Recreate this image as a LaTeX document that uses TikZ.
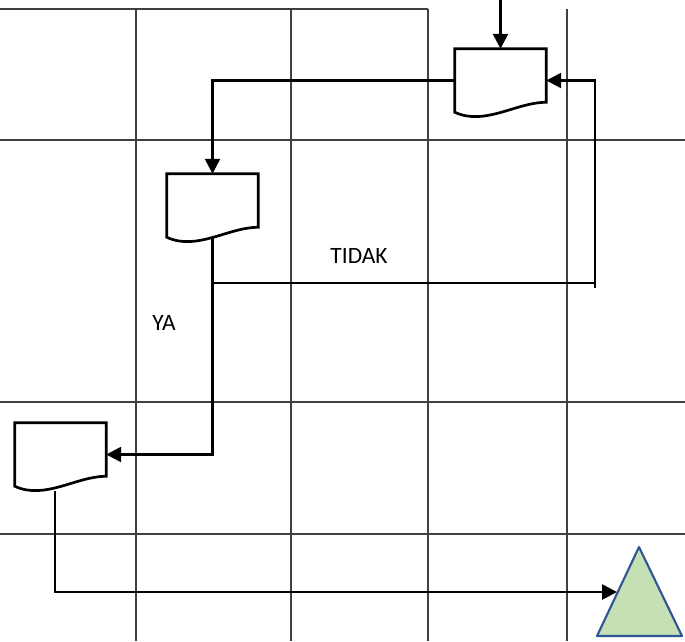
\documentclass[tikz,border=0pt]{standalone}
\usepackage{fontspec}
\setmainfont{Carlito}
\usetikzlibrary{arrows.meta,calc}
\definecolor{termfill}{RGB}{197,224,180}
\definecolor{termline}{RGB}{47,85,151}

\begin{document}
\begin{tikzpicture}[x=0.03cm, y=-0.03cm,
  grid/.style={black!75, line width=1.1pt},
  link/.style={line width=2.3pt},
  flow/.style={link, -{Triangle[length=0.45cm,width=0.45cm]}},
  docbox/.style={minimum width=2.73cm, minimum height=1.89cm, inner sep=0pt},
  lbl/.style={font=\fontsize{20}{24}\selectfont}]
\useasboundingbox (0,0) rectangle (685,641);
% table grid
\draw[grid] (0,9) -- (428,9);
\foreach \x in {136,291,428,567} \draw[grid] (\x,9) -- (\x,641);
\foreach \y in {140,402,534} \draw[grid] (0,\y) -- (685,\y);
% document symbols
\foreach \nm/\x/\y in {doc1/500.5/80.5, doc2/212.5/205.5, doc3/60.5/454.5} {
  \node[docbox] (\nm) at (\x,\y) {};
  \draw[link, line join=miter] (\nm.south west) -- (\nm.north west) -- (\nm.north east) -- ($(\nm.south east)+(0,-10)$)
    .. controls +(-30,0) and +(30,14) .. (\nm.south west) -- cycle;
}
% terminator
\draw[fill=termfill, draw=termline, line width=1.8pt, line join=round] (639,547) -- (682,636) -- (597,636) -- cycle;
\coordinate (stop) at (617,592);
% connectors
\coordinate (start) at (500.5,0);
\draw[flow] (start) -- (doc1.north);
\draw[flow] (doc1.west) -| (doc2.north);
\draw[flow] (doc2.south) |- (doc3.east);
\coordinate (split) at (212.5,283);
\coordinate (back) at (595,288);
\draw[link] (split) -- (split -| back);
\draw[flow] (back) |- (doc1.east);
\draw[flow] ([shift={(-5.5,5)}]doc3.south) |- (stop);
% labels
\node[lbl] (tidak) at (359,256) {TIDAK};
\node[lbl] (ya) at (164,323) {YA};
\end{tikzpicture}
\end{document}
